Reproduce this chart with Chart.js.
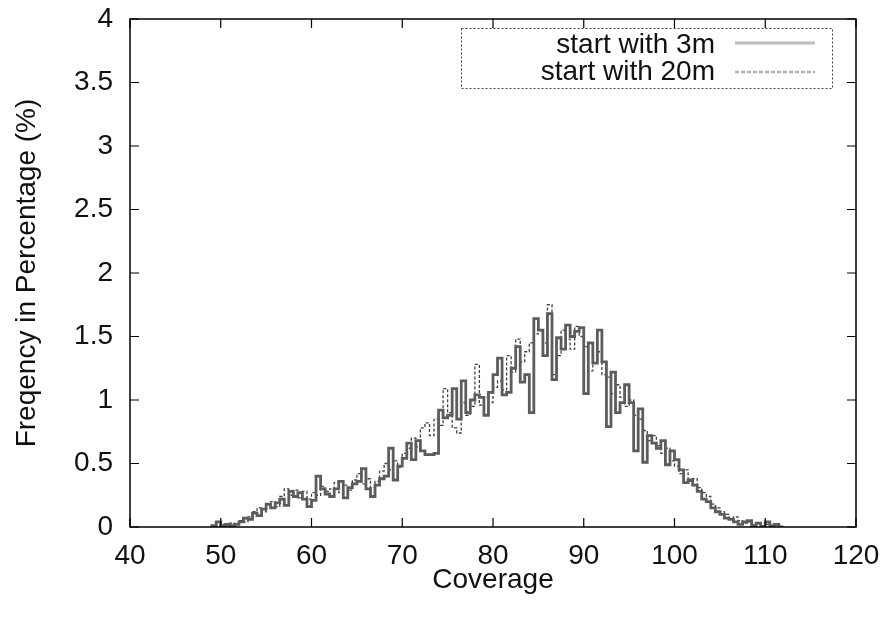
<!DOCTYPE html>
<html>
<head>
<meta charset="utf-8">
<script src="https://cdn.jsdelivr.net/npm/chart.js@4/dist/chart.umd.min.js"></script>
<style>
  html, body { margin: 0; padding: 0; background: #fff; }
  #wrap { width: 881px; height: 622px; }
</style>
</head>
<body>
<div id="wrap"><canvas id="histChart" width="881" height="622"></canvas></div>
<script>
// --- data: histogram bins (left edges, width 0.5) and frequency in % ---
const binEdges = [
  49.0, 49.5, 50.0, 50.5, 51.0, 51.5, 52.0, 52.5, 53.0, 53.5,
  54.0, 54.5, 55.0, 55.5, 56.0, 56.5, 57.0, 57.5, 58.0, 58.5,
  59.0, 59.5, 60.0, 60.5, 61.0, 61.5, 62.0, 62.5, 63.0, 63.5,
  64.0, 64.5, 65.0, 65.5, 66.0, 66.5, 67.0, 67.5, 68.0, 68.5,
  69.0, 69.5, 70.0, 70.5, 71.0, 71.5, 72.0, 72.5, 73.0, 73.5,
  74.0, 74.5, 75.0, 75.5, 76.0, 76.5, 77.0, 77.5, 78.0, 78.5,
  79.0, 79.5, 80.0, 80.5, 81.0, 81.5, 82.0, 82.5, 83.0, 83.5,
  84.0, 84.5, 85.0, 85.5, 86.0, 86.5, 87.0, 87.5, 88.0, 88.5,
  89.0, 89.5, 90.0, 90.5, 91.0, 91.5, 92.0, 92.5, 93.0, 93.5,
  94.0, 94.5, 95.0, 95.5, 96.0, 96.5, 97.0, 97.5, 98.0, 98.5,
  99.0, 99.5, 100.0, 100.5, 101.0, 101.5, 102.0, 102.5, 103.0, 103.5,
  104.0, 104.5, 105.0, 105.5, 106.0, 106.5, 107.0, 107.5, 108.0, 108.5,
  109.0, 109.5, 110.0, 110.5, 111.0, 111.5, 112.0
];

const start3m = [
  0.00, 0.01, 0.04, 0.01, 0.02, 0.01, 0.02, 0.04, 0.07, 0.06,
  0.11, 0.09, 0.14, 0.18, 0.15, 0.19, 0.22, 0.17, 0.28, 0.24,
  0.27, 0.22, 0.16, 0.21, 0.40, 0.30, 0.26, 0.24, 0.30, 0.36,
  0.23, 0.31, 0.34, 0.36, 0.46, 0.30, 0.24, 0.33, 0.38, 0.40,
  0.62, 0.37, 0.48, 0.54, 0.66, 0.53, 0.68, 0.60, 0.57, 0.57,
  0.58, 0.92, 0.86, 0.88, 1.09, 0.85, 1.15, 0.90, 1.00, 1.04,
  1.02, 0.88, 1.06, 1.20, 1.33, 1.04, 1.06, 1.25, 1.42, 1.14,
  1.20, 0.90, 1.64, 1.55, 1.35, 1.68, 1.16, 1.49, 1.40, 1.59,
  1.50, 1.54, 1.57, 1.05, 1.45, 1.29, 1.55, 1.30, 0.79, 1.22,
  0.90, 0.98, 1.12, 0.98, 0.60, 0.93, 0.51, 0.72, 0.66, 0.62,
  0.68, 0.49, 0.60, 0.53, 0.45, 0.35, 0.37, 0.33, 0.28, 0.22,
  0.20, 0.15, 0.12, 0.10, 0.07, 0.06, 0.04, 0.02, 0.04, 0.05,
  0.01, 0.03, 0.00, 0.04, 0.01, 0.02
];

const start20m = [
  0.01, 0.00, 0.01, 0.02, 0.01, 0.03, 0.02, 0.05, 0.04, 0.08,
  0.12, 0.15, 0.12, 0.17, 0.20, 0.16, 0.24, 0.30, 0.25, 0.29,
  0.23, 0.28, 0.22, 0.27, 0.25, 0.32, 0.28, 0.30, 0.35, 0.27,
  0.33, 0.29, 0.37, 0.42, 0.34, 0.38, 0.31, 0.36, 0.44, 0.50,
  0.45, 0.52, 0.47, 0.58, 0.62, 0.70, 0.63, 0.78, 0.82, 0.72,
  0.85, 0.80, 1.09, 0.90, 0.78, 0.74, 0.98, 0.88, 0.95, 1.28,
  0.96, 1.02, 0.98, 1.10, 1.15, 1.08, 1.35, 1.22, 1.48, 1.30,
  1.38, 1.45, 1.52, 1.55, 1.45, 1.75, 1.20, 1.35, 1.55, 1.48,
  1.40, 1.58, 1.50, 1.42, 1.23, 1.35, 1.38, 1.20, 1.18, 1.05,
  1.12, 1.02, 0.95, 1.00, 0.88, 0.85, 0.76, 0.68, 0.72, 0.64,
  0.58, 0.62, 0.52, 0.48, 0.42, 0.45, 0.36, 0.38, 0.31, 0.27,
  0.24, 0.18, 0.15, 0.12, 0.10, 0.07, 0.08, 0.05, 0.03, 0.04,
  0.02, 0.03, 0.01, 0.02, 0.00, 0.01
];

const seriesNames = ['start with 3m', 'start with 20m'];
const xTicks = [40, 50, 60, 70, 80, 90, 100, 110, 120];
const yTicks = [0, 0.5, 1, 1.5, 2, 2.5, 3, 3.5, 4];

const FONT = '"Liberation Sans", Arial, Helvetica, sans-serif';

// step points: each bin holds its value until the next edge, then drops to 0
function toSteps(values) {
  const pts = values.map((v, i) => ({ x: binEdges[i], y: v }));
  pts.push({ x: binEdges[values.length], y: 0 });
  return pts;
}

// gnuplot-like frame with inward ticks on all four sides
const framePlugin = {
  id: 'frame',
  afterDatasetsDraw(chart) {
    const { ctx, chartArea: a, scales } = chart;
    ctx.save();
    ctx.strokeStyle = '#000';
    ctx.lineWidth = 1.5;
    ctx.strokeRect(a.left, a.top, a.right - a.left, a.bottom - a.top);
    ctx.lineWidth = 1.2;
    const len = 9;
    ctx.beginPath();
    xTicks.forEach(v => {
      const px = scales.x.getPixelForValue(v);
      ctx.moveTo(px, a.bottom); ctx.lineTo(px, a.bottom - len);
      ctx.moveTo(px, a.top); ctx.lineTo(px, a.top + len);
    });
    yTicks.forEach(v => {
      const py = scales.y.getPixelForValue(v);
      ctx.moveTo(a.left, py); ctx.lineTo(a.left + len, py);
      ctx.moveTo(a.right, py); ctx.lineTo(a.right - len, py);
    });
    ctx.stroke();
    ctx.restore();
  }
};

// legend box in the top right, text right aligned with the sample after it
const legendPlugin = {
  id: 'gpLegend',
  afterDraw(chart) {
    const { ctx } = chart;
    ctx.save();
    ctx.strokeStyle = '#444';
    ctx.lineWidth = 1;
    ctx.setLineDash([2, 2]);
    ctx.strokeRect(461.5, 28.5, 371, 60);

    ctx.font = '28px ' + FONT;
    ctx.fillStyle = '#111';
    ctx.textAlign = 'right';
    ctx.textBaseline = 'middle';
    ctx.setLineDash([]);
    ctx.fillText(seriesNames[0], 715, 45);
    ctx.fillText(seriesNames[1], 715, 72);

    ctx.strokeStyle = '#bdbdbd';
    ctx.lineWidth = 3;
    ctx.beginPath(); ctx.moveTo(735, 43); ctx.lineTo(815, 43); ctx.stroke();
    ctx.strokeStyle = '#b0b0b0';
    ctx.lineWidth = 2.5;
    ctx.setLineDash([4, 2]);
    ctx.beginPath(); ctx.moveTo(735, 72); ctx.lineTo(815, 72); ctx.stroke();
    ctx.restore();
  }
};

const ctx = document.getElementById('histChart').getContext('2d');

new Chart(ctx, {
  type: 'line',
  data: {
    datasets: [
      {
        label: seriesNames[0] + ' edge',
        data: toSteps(start3m),
        stepped: 'after',
        borderColor: '#5c5c5c',
        borderWidth: 2.8,
        pointRadius: 0,
        fill: false
      },
      {
        label: seriesNames[0],
        data: toSteps(start3m),
        stepped: 'after',
        borderColor: '#d6d6d6',
        borderWidth: 1.3,
        pointRadius: 0,
        fill: false
      },
      {
        label: seriesNames[1],
        data: toSteps(start20m),
        stepped: 'after',
        borderColor: '#404040',
        borderWidth: 1.3,
        borderDash: [3, 2],
        pointRadius: 0,
        fill: false
      }
    ]
  },
  options: {
    responsive: false,
    animation: false,
    devicePixelRatio: 1,
    layout: { padding: { left: 0, right: 25, top: 19, bottom: 0 } },
    plugins: {
      legend: { display: false },
      tooltip: { enabled: false }
    },
    scales: {
      x: {
        type: 'linear',
        min: 40,
        max: 120,
        afterBuildTicks: s => { s.ticks = xTicks.map(v => ({ value: v })); },
        afterFit: s => { s.height = 95; s.paddingLeft = 0; s.paddingRight = 0; },
        ticks: {
          color: '#111',
          font: { family: FONT, size: 28 },
          padding: 12,
          maxRotation: 0
        },
        grid: { display: false, drawTicks: false },
        border: { display: false },
        title: {
          display: true,
          text: 'Coverage',
          color: '#111',
          font: { family: FONT, size: 28 },
          padding: { top: 0, bottom: 25 }
        }
      },
      y: {
        min: 0,
        max: 4,
        afterBuildTicks: s => { s.ticks = yTicks.map(v => ({ value: v })); },
        afterFit: s => { s.width = 130; s.paddingTop = 0; s.paddingBottom = 0; },
        ticks: {
          color: '#111',
          font: { family: FONT, size: 28 },
          padding: 17,
          callback: v => String(v)
        },
        grid: { display: false, drawTicks: false },
        border: { display: false },
        title: {
          display: true,
          text: 'Freqency in Percentage (%)',
          color: '#111',
          font: { family: FONT, size: 28 },
          padding: { top: 10, bottom: 0 }
        }
      }
    }
  },
  plugins: [framePlugin, legendPlugin]
});
</script>
</body>
</html>
